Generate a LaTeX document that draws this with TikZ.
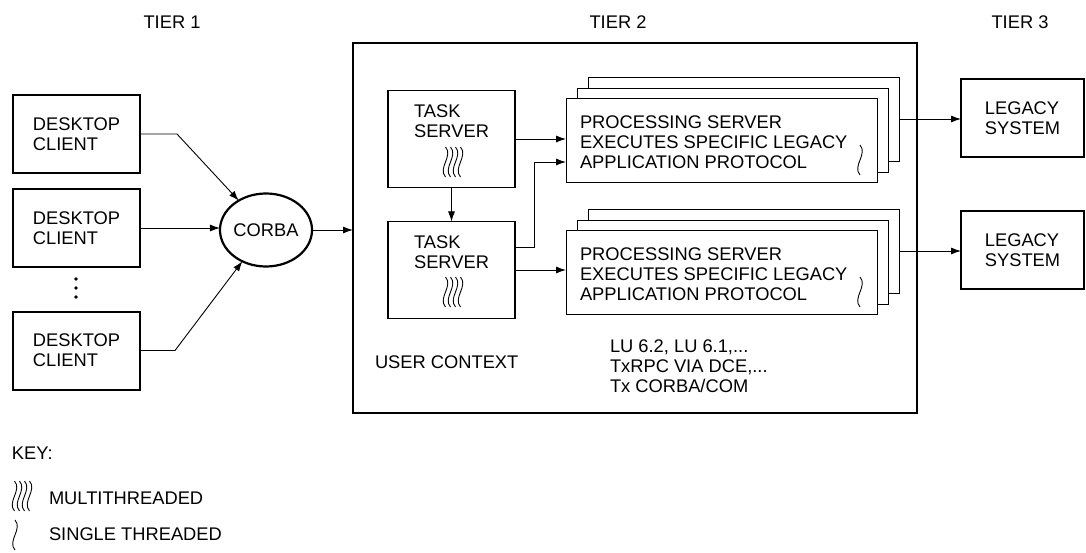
\documentclass[tikz,border=0pt]{standalone}
\usepackage{fontspec}
\setmainfont{Liberation Sans}
\usetikzlibrary{arrows.meta,shapes.geometric}
\tikzset{
  thr/.pic={\draw[line width=0.9pt] (0,-15) .. controls (8,-6) and (-8,6) .. (0,15);},
  multithr/.pic={\foreach \i in {-7.5,-2.5,2.5,7.5} {\draw[line width=0.9pt] (\i,-15) .. controls (\i+8,-6) and (\i-8,6) .. (\i,15);}},
}
\begin{document}
\begin{tikzpicture}[x=1pt,y=-1pt,
  every node/.style={font=\fontsize{18.3}{20}\selectfont, inner sep=0pt, outer sep=0pt},
  dbox/.style={draw, rectangle, line width=2pt, minimum width=127pt, minimum height=78pt, align=left},
  tbox/.style={draw, rectangle, line width=1.2pt, minimum width=127pt, minimum height=97pt},
  pbox/.style={draw, rectangle, line width=0.9pt, fill=white, minimum width=311pt, minimum height=84pt},
  lbox/.style={draw, rectangle, line width=2.2pt, minimum width=123pt, minimum height=78pt, align=left},
  bigbox/.style={draw, rectangle, line width=2.4pt, minimum width=564pt, minimum height=370pt},
  orb/.style={draw, ellipse, line width=2.2pt, minimum width=85pt, minimum height=73pt},
  txt/.style={align=left},
  arr/.style={line width=0.9pt, -{Latex[length=10pt,width=7pt]}},
]
\path[use as bounding box] (0,0) rectangle (1086,553);

% tier titles
\node (tier1) at (172,22) {TIER 1};
\node (tier2) at (618,22) {TIER 2};
\node (tier3) at (1020,22) {TIER 3};

% tier 1
\node[dbox] (d1) at (76.5,134) {DESKTOP\\CLIENT};
\node[dbox] (d2) at (76.5,228) {DESKTOP\\CLIENT};
\node[dbox] (d3) at (76.5,350.5) {DESKTOP\\CLIENT};
\foreach \yy in {279,288,297} {\fill (76,\yy) circle (1.9);}

\node[orb] (corba) at (266,230) {CORBA};

% tier 2
\node[bigbox] (t2) at (635,228) {};

\node[tbox] (ts1) at (451.5,139) {};
\node[txt] (ts1t) at (451.5,121) {TASK\\SERVER};
\pic at (453,162) {multithr};
\node[tbox] (ts2) at (451.5,270) {};
\node[txt] (ts2t) at (451.5,252) {TASK\\SERVER};
\pic at (453,292) {multithr};

\node[pbox] (p1c) at (743.5,119) {};
\node[pbox] (p1b) at (732.5,130) {};
\node[pbox] (p1a) at (721.5,140) {};
\node[txt, anchor=west] (p1t) at (580,142) {PROCESSING SERVER\\EXECUTES SPECIFIC LEGACY\\APPLICATION PROTOCOL};
\pic at (860,160) {thr};

\node[pbox] (p2c) at (743.5,251) {};
\node[pbox] (p2b) at (732.5,262) {};
\node[pbox] (p2a) at (721.5,272) {};
\node[txt, anchor=west] (p2t) at (580,274) {PROCESSING SERVER\\EXECUTES SPECIFIC LEGACY\\APPLICATION PROTOCOL};
\pic at (860,292) {thr};

\node[anchor=west] (uc) at (375,362) {USER CONTEXT};
\node[txt, anchor=west] (proto) at (610,366) {LU 6.2, LU 6.1,...\\TxRPC VIA DCE,...\\Tx CORBA/COM};

% tier 3
\node[lbox] (leg1) at (1022.5,118) {LEGACY\\SYSTEM};
\node[lbox] (leg2) at (1022.5,250) {LEGACY\\SYSTEM};

% connectors
\coordinate (k1) at (177,134);
\coordinate (k3) at (175,350.5);
\draw[arr] (d1.east) -- (k1) -- (corba);
\draw[arr] (d2.east) -- (d2.east -| corba.west);
\draw[arr] (d3.east) -- (k3) -- (corba);
\draw[arr] (corba.east) -- (corba.east -| t2.west);
\draw[arr] (ts1.south) -- (ts2.north);
\draw[arr] (ts1.east) -- (ts1.east -| p1a.west);
\draw[arr] ([yshift=23pt]ts2.east) -- ++(19,0) |- ([yshift=-22pt]p1a.west);
\draw[arr] (ts2.east) -- (ts2.east -| p2a.west);
\draw[arr] (p1c.east) -- (p1c.east -| leg1.west);
\draw[arr] (p2c.east) -- (p2c.east -| leg2.west);

% key
\node[anchor=west] (key) at (12,453) {KEY:};
\pic at (22,496) {multithr};
\node[anchor=west] (mt) at (49,498) {MULTITHREADED};
\pic at (15,535) {thr};
\node[anchor=west] (st) at (49,534) {SINGLE THREADED};
\end{tikzpicture}
\end{document}
